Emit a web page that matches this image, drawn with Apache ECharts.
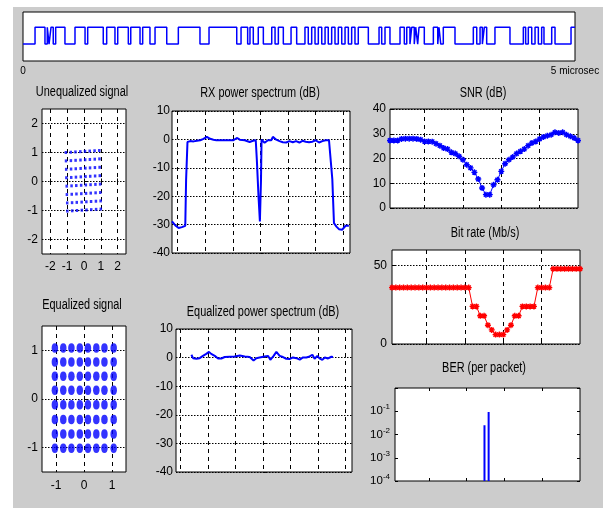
<!DOCTYPE html>
<html><head><meta charset="utf-8">
<script src="https://cdn.jsdelivr.net/npm/echarts@6/dist/echarts.min.js"></script>
<style>
html,body{margin:0;padding:0;background:#fff;}
#c{width:603px;height:508px;background:linear-gradient(#cccccc,#cccccc) 13px 7px/590px 501px no-repeat,#fff;}
</style></head><body><div id="c"></div>
<script>
// ---------------- data ----------------
// transmitted waveform: times (microseconds) where the level toggles, starting low
const signalEdges = [0.109,0.199,0.220,0.236,0.254,0.274,0.296,0.380,0.471,0.562,0.586,0.727,0.758,0.833,0.858,0.954,0.976,1.060,1.084,1.150,1.196,1.302,1.407,1.603,1.685,1.936,1.975,2.035,2.056,2.086,2.131,2.177,2.253,2.283,2.313,2.358,2.428,2.479,2.554,2.584,2.615,2.645,2.675,2.706,2.736,2.765,2.796,2.826,2.856,2.887,2.917,2.947,2.977,3.007,3.037,3.128,3.225,3.249,3.279,3.324,3.415,3.454,3.476,3.505,3.521,3.544,3.557,3.575,3.587,3.635,3.717,3.757,3.768,3.784,3.807,3.913,4.079,4.110,4.140,4.161,4.179,4.200,4.275,4.411,4.532,4.553,4.577,4.608,4.638,4.668,4.698,4.719,4.789,4.819,4.964];
const signalLevels = [0, 1];
const signalSpan = [0, 5];
const signalTickLabels = ['0', '5 microsec'];

// unequalized constellation (8x8 grid, slightly sheared)
const unEqCols = [-1.05,-0.76,-0.48,-0.19,0.09,0.37,0.66,0.94];
const unEqRows = [1.0,0.71,0.42,0.13,-0.16,-0.45,-0.74,-1.02];
const unEqRowShift = [-0.03,-0.02,-0.01,0.0,0.02,0.03,0.05,0.06];
const unEqColLift = [0,0.01,0.02,0.03,0.04,0.05,0.06,0.07];
const unEqTicks = [-2,-1,0,1,2];

// equalized constellation
const eqCols = [-1.04,-0.74,-0.45,-0.15,0.14,0.44,0.73,1.06];
const eqRows = [1.05,0.76,0.47,0.18,-0.12,-0.42,-0.72,-1.01];
const eqTicks = [-1,0,1];

// RX power spectrum (dB) vs subcarrier
const rxFreq = [-32,-30.8,-29.6,-28.4,-27.8,-27.2,-26.9,-26.4,-25.4,-24.2,-23.0,-21.8,-20.6,-19.4,-18.8,-18.2,-17.0,-15.9,-12.9,-9.9,-8.4,-7.5,-5.7,-3.9,-2.7,-1.7,-1.3,-0.7,-0.2,0.2,0.4,0.9,1.5,2.7,3.9,4.5,5.7,6.9,8.1,9.3,10.5,11.7,12.9,14.1,15.2,16.4,17.6,18.8,20.0,21.2,22.4,23.6,24.8,25.5,26.0,26.6,27.5,28.4,29.6,30.8,32.0];
const rxPower = [-28.9,-30.3,-31.2,-30.9,-30.7,-30.4,-14.3,-0.9,-0.6,-0.7,-0.5,-0.3,0.2,0.9,0.7,0.2,-0.1,-0.3,-0.3,-0.3,0.5,-0.1,-0.3,-0.9,-0.5,-0.3,-7.3,-20.1,-28.9,-14.3,-0.1,-0.3,-1.2,-0.3,-0.3,0.9,-0.1,-0.6,-1.0,-1.1,-0.6,-1.0,-0.6,-1.1,-0.5,-0.8,-1.0,-0.8,-0.3,-1.1,-0.6,-0.3,-0.3,-0.3,-14,-29.5,-30.7,-31.6,-31.8,-30.4,-30.4];

// equalized power spectrum (dB)
const eqFreq = [-26.0,-25.4,-24.2,-23.0,-21.8,-20.6,-19.6,-18.8,-17.5,-16.3,-15.1,-13.9,-12.1,-10.3,-8.4,-6.6,-4.8,-3.4,-2.4,-1.2,0.6,1.9,2.7,3.9,4.9,6.1,7.3,8.5,9.7,10.9,12.2,13.4,14.6,15.8,17.0,18.0,18.8,19.8,20.6,21.6,22.5,23.7,24.9,25.5];
const eqPower = [1.0,-0.2,-0.4,-0.2,0.6,1.3,2.0,1.3,0.6,-0.3,-0.3,0.2,0.3,0.4,0.7,0.4,0.2,-1.0,-0.2,0.05,0.4,0.6,-0.8,0.6,2.0,0.6,0.2,-0.4,-0.5,0.05,-0.2,-0.7,0.05,0.05,0.4,1.0,-0.4,0.6,-0.3,-0.8,0.05,-0.3,0.3,0.2];
const specXTicks = [-30,-20,-10,0,10,20,30];
const specYTicks = [-40,-30,-20,-10,0,10];

// per-subcarrier SNR (dB) and bit rate (Mb/s)
const snrDb = [27.3,27.3,27.3,27.9,28.0,28.0,28.0,27.9,27.6,26.9,26.9,26.8,26.0,25.2,24.2,23.8,22.5,22.0,20.9,19.5,17.5,16.2,14.4,11.7,8.1,5.4,5.4,9.4,11.4,14.8,17.9,19.5,20.6,22.0,22.9,23.8,25.2,26.3,26.9,27.9,28.7,29.2,29.6,30.6,30.3,30.6,29.6,29.0,28.3,27.3];
const bitRate = [36,36,36,36,36,36,36,36,36,36,36,36,36,36,36,36,36,36,36,36,36,24,24,18,18,12,9,6,6,6,9,12,18,18,24,24,24,24,36,36,36,36,48,48,48,48,48,48,48,48];
const carrierTicks = [10,20,30,40];
const snrYTicks = [0,10,20,30,40];
const rateYTicks = [0,50];

// BER per packet
const berIndex = [24.7, 25.8];
const berValue = [0.025, 0.093];
const berRange = [1e-4, 1];

// ---------------- chart ----------------
const FONT = "'Liberation Sans', Arial, sans-serif";
const LBL = 12;
const BLUE = '#0000ff', RED = '#ff0000';
const STAR = 'path://M5,0L5,10M0,5L10,5M1.5,1.5L8.5,8.5M1.5,8.5L8.5,1.5';

const grids = [
  {left:23, top:12, width:552, height:49},
  {left:42, top:109, width:84, height:145},
  {left:42, top:326, width:84, height:146},
  {left:172, top:111, width:178, height:142},
  {left:176, top:329, width:176, height:143},
  {left:390, top:109, width:188, height:99},
  {left:392, top:250, width:188, height:94},
  {left:395, top:388, width:185, height:93}
].map(g => Object.assign({show:true, backgroundColor:'#fff', borderColor:'#000', borderWidth:1, containLabel:false, outerBoundsMode:'none'}, g));

function axis(kind, gi, o) {
  const a = {
    type: o.type || 'value', gridIndex: gi, min: o.min, max: o.max,
    position: o.position || (kind === 'x' ? 'bottom' : 'left'),
    axisLine: {show:false},
    axisTick: {show: o.tickShow !== false && !!(o.ticks || o.type === 'log'), inside:true, length:3, lineStyle:{color:'#000', width:1}},
    axisLabel: {show: !!o.labels, margin: o.margin != null ? o.margin : 4, fontSize: o.fontSize || LBL, fontFamily:FONT, color:'#000', showMinLabel:true, showMaxLabel:true},
    splitLine: {show: !!o.grid, lineStyle:{color:'#000', width:1, type: kind === 'x' ? [4,4] : [1.5,1.5]}}
  };
  if (o.ticks) { a.axisTick.customValues = o.ticks; a.axisLabel.customValues = o.ticks; }
  if (o.formatter) a.axisLabel.formatter = o.formatter;
  if (o.rich) a.axisLabel.rich = o.rich;
  return a;
}

const xAxes = [
  axis('x', 0, {min:signalSpan[0], max:signalSpan[1], ticks:signalSpan, tickShow:false, labels:true, margin:5, fontSize:10,
    formatter: v => signalTickLabels[signalSpan.indexOf(v)]}),
  axis('x', 1, {min:-2.5, max:2.5, ticks:unEqTicks, labels:true, grid:true, margin:7}),
  axis('x', 2, {min:-1.5, max:1.5, ticks:eqTicks, labels:true, grid:true, margin:8}),
  axis('x', 3, {min:-32, max:32.4, ticks:specXTicks, grid:true}),
  axis('x', 4, {min:-31.6, max:32.4, ticks:specXTicks, grid:true}),
  axis('x', 5, {min:1, max:50, ticks:carrierTicks, grid:true}),
  axis('x', 6, {min:1, max:50, ticks:carrierTicks, grid:true}),
  axis('x', 7, {min:1, max:50, ticks:carrierTicks}),
  axis('x', 7, {min:1, max:50, ticks:carrierTicks, position:'top'})
];
const berRich = {b:{fontSize:11.5, fontFamily:FONT, color:'#000', lineHeight:14}, e:{fontSize:8, fontFamily:FONT, color:'#000', padding:[0,0,8,0]}};
const yAxes = [
  axis('y', 0, {min:-1, max:1.9}),
  axis('y', 1, {min:-2.5, max:2.5, ticks:unEqTicks, labels:true, grid:true, margin:4}),
  axis('y', 2, {min:-1.5, max:1.5, ticks:eqTicks, labels:true, grid:true, margin:4}),
  axis('y', 3, {min:-40, max:10, ticks:specYTicks, labels:true, grid:true, margin:2}),
  axis('y', 4, {min:-40, max:10, ticks:specYTicks, labels:true, grid:true, margin:3}),
  axis('y', 5, {min:0, max:40, ticks:snrYTicks, labels:true, grid:true, margin:4}),
  axis('y', 6, {min:0, max:60, ticks:rateYTicks, labels:true, grid:true, margin:5}),
  axis('y', 7, {type:'log', min:berRange[0], max:berRange[1], labels:true, margin:5,
    formatter: v => { const e = Math.round(Math.log10(v)); return e >= 0 ? '' : '{b|10}{e|' + e + '}'; }, rich:berRich}),
  axis('y', 7, {type:'log', min:berRange[0], max:berRange[1], position:'right'})
];
yAxes[7].logBase = 10; yAxes[8].logBase = 10;

// build series data from the arrays
const sigData = [[signalSpan[0], signalLevels[0]]];
signalEdges.forEach((t, i) => sigData.push([t, signalLevels[(i + 1) % 2]]));
sigData.push([signalSpan[1], signalLevels[signalEdges.length % 2]]);

const unEqPts = [];
unEqRows.forEach((r, ri) => unEqCols.forEach((c, ci) => unEqPts.push([c + unEqRowShift[ri], r + unEqColLift[ci]])));
const eqPts = [];
eqRows.forEach(r => eqCols.forEach(c => eqPts.push([c, r])));

const series = [
  {type:'line', xAxisIndex:0, yAxisIndex:0, step:'end', data:sigData, showSymbol:false, lineStyle:{color:BLUE, width:1.5}},
  {type:'scatter', xAxisIndex:1, yAxisIndex:1, data:unEqPts, symbol:'rect', symbolSize:[2.5,3], itemStyle:{color:BLUE}},
  {type:'scatter', xAxisIndex:2, yAxisIndex:2, data:eqPts, symbol:'circle', symbolSize:[6.5,9.5], itemStyle:{color:BLUE}},
  {type:'line', xAxisIndex:3, yAxisIndex:3, data:rxFreq.map((f, i) => [f, rxPower[i]]), showSymbol:false, lineStyle:{color:BLUE, width:2}},
  {type:'line', xAxisIndex:4, yAxisIndex:4, data:eqFreq.map((f, i) => [f, eqPower[i]]), showSymbol:false, lineStyle:{color:BLUE, width:2}},
  {type:'line', xAxisIndex:5, yAxisIndex:5, data:snrDb.map((v, i) => [i + 1, v]), symbol:STAR, symbolSize:6, showSymbol:true,
    itemStyle:{color:BLUE, borderColor:BLUE, borderWidth:1.4}, lineStyle:{color:BLUE, width:1}},
  {type:'line', xAxisIndex:6, yAxisIndex:6, data:bitRate.map((v, i) => [i + 1, v]), symbol:STAR, symbolSize:6, showSymbol:true,
    itemStyle:{color:RED, borderColor:RED, borderWidth:1.4}, lineStyle:{color:RED, width:1}}
];
berIndex.forEach((x, i) => series.push({type:'line', xAxisIndex:7, yAxisIndex:7, data:[[x, berRange[0]], [x, berValue[i]]],
  showSymbol:false, lineStyle:{color:BLUE, width:2}}));
series.forEach(s => { s.silent = true; s.animation = false; s.emphasis = {disabled:true}; });

const titles = [
  ['Unequalized signal', 82, 92], ['Equalized signal', 82, 305],
  ['RX power spectrum (dB)', 260, 93], ['Equalized power spectrum (dB)', 263, 312],
  ['SNR (dB)', 483, 93], ['Bit rate (Mb/s)', 485, 233], ['BER (per packet)', 484, 368]
];

const chart = echarts.init(document.getElementById('c'), null, {renderer:'canvas'});
chart.setOption({
  animation:false,
  backgroundColor:'transparent',
  grid: grids, xAxis: xAxes, yAxis: yAxes, series: series,
  graphic: titles.map(t => ({type:'text', x:t[1], y:t[2], scaleX:0.78, silent:true,
    style:{text:t[0], fill:'#000', fontSize:14, fontFamily:FONT, align:'center', verticalAlign:'middle'}}))
});
</script></body></html>
